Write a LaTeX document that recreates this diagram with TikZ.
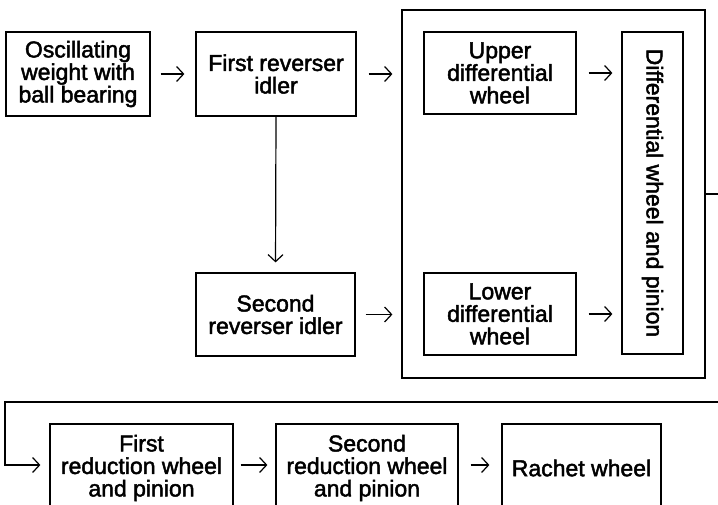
\documentclass[tikz,border=0pt]{standalone}
\usepackage{fontspec}
\setmainfont{Liberation Sans}
\newfontfamily\medfont[FakeBold=2]{Liberation Sans}
\usetikzlibrary{arrows.meta}
\begin{document}
\begin{tikzpicture}[x=1pt,y=-1pt, line width=1.2pt,
  box/.style={draw, align=center, inner sep=0pt, font=\medfont\fontsize{23}{22.5}\selectfont},
  arr/.style={-{Straight Barb[length=7pt,width=15pt]}}]
\useasboundingbox (0,0) rectangle (718,505);
\clip (0,0) rectangle (718,505);
\node[box, minimum width=144pt, minimum height=84pt] (osc) at (78,74) {Oscillating\\weight with\\ball bearing};
\node[box, minimum width=160pt, minimum height=84pt] (rev1) at (276,74) {First reverser\\idler};
\node[box, minimum width=159pt, minimum height=83pt] (rev2) at (275.5,314.5) {Second\\reverser idler};
\node[box, minimum width=303pt, minimum height=368pt] (big) at (553.5,194) {};
\node[box, minimum width=152pt, minimum height=82pt] (upper) at (500,73) {Upper\\differential\\wheel};
\node[box, minimum width=152pt, minimum height=82pt] (lower) at (500,314) {Lower\\differential\\wheel};
\node[box, rotate=-90, minimum width=322pt, minimum height=61pt] (dwp) at (652.5,193) {Differential wheel and pinion};
\node[box, minimum width=183pt, minimum height=88pt] (redA) at (141.5,468) {First\\reduction wheel\\and pinion};
\node[box, minimum width=182pt, minimum height=88pt] (redB) at (367,468) {Second\\reduction wheel\\and pinion};
\node[box, minimum width=159pt, minimum height=88pt] (rachet) at (581.5,468) {Rachet wheel};
\coordinate (e1) at (718,195);
\coordinate (e2) at (718,402);
\coordinate (c1) at (5,402);
\coordinate (c2) at (5,465);
\draw[arr, shorten <=10pt, shorten >=11pt] (osc) -- (rev1);
\draw[arr, shorten <=12pt, shorten >=9pt] (rev1.east) -- (big.west |- rev1.east);
\draw[arr, shorten >=10pt] (rev1.south) -- (rev2.north);
\draw[arr, shorten <=10pt, shorten >=9pt] (rev2.east) -- (big.west |- rev2.east);
\draw[arr, shorten <=12pt, shorten >=9pt] (upper.east) -- (dwp.south |- upper.east);
\draw[arr, shorten <=12pt, shorten >=9pt] (lower.east) -- (dwp.south |- lower.east);
\draw (big.east) -- (e1 |- big.east);
\draw[arr, shorten >=9pt] (e2) -- (c1) -- (c2) -- (redA.west |- c2);
\draw[arr, shorten <=7pt, shorten >=8pt] (redA.east |- c2) -- (redB.west |- c2);
\draw[arr, shorten <=12pt, shorten >=12pt] (redB.east |- c2) -- (rachet.west |- c2);
\end{tikzpicture}
\end{document}
